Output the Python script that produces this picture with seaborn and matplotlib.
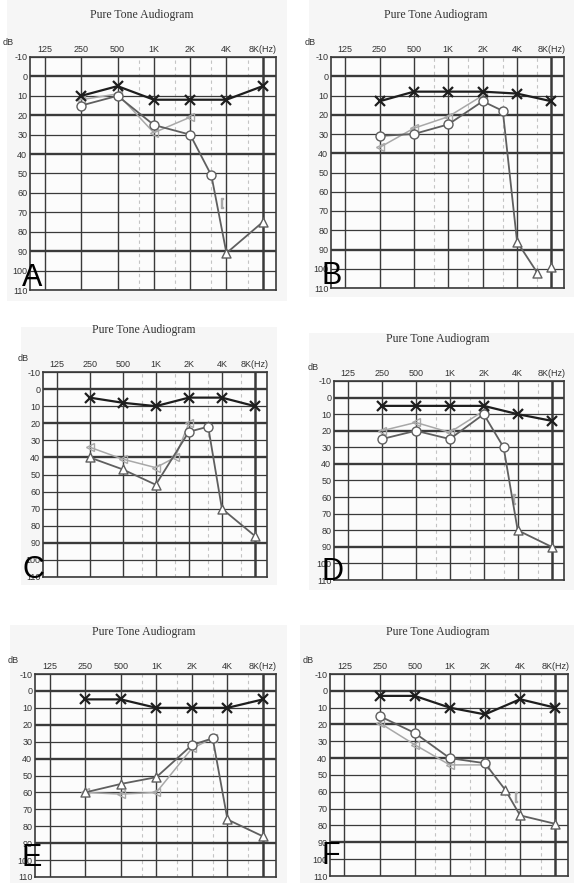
import matplotlib
matplotlib.use("Agg")
import matplotlib.pyplot as plt
from matplotlib.patches import Rectangle
import seaborn as sns
import pandas as pd

# ── data (dB HL) ─────────────────────────────────────────────
FREQS = [250, 500, 1000, 2000, 4000, 8000]
TICK_FREQS = [125, 250, 500, 1000, 2000, 4000, 8000]
TICK_LABELS = ["125", "250", "500", "1K", "2K", "4K", "8K(Hz)"]
MID_FREQS = [750, 1500, 3000, 6000]
DB_TICKS = list(range(-10, 111, 10))

# A
a_left = [10, 5, 12, 12, 12, 5]
a_right_f = [250, 500, 1000, 2000, 3000, 4000, 8000]
a_right = [15, 10, 25, 30, 51, 91, 75]
a_right_sym = ["o", "o", "o", "o", "o", "^", "^"]
a_bone_f = [250, 500, 1000, 2000]
a_bone = [12, 9, 29, 21]
a_mask_f = [3700]
a_mask = [65]
a_nr_f, a_nr = [], []

# B
b_left = [13, 8, 8, 8, 9, 13]
b_right_f = [250, 500, 1000, 2000, 3000, 4000, 6000]
b_right = [31, 30, 25, 13, 18, 86, 102]
b_right_sym = ["o", "o", "o", "o", "o", "^", "^"]
b_bone_f = [250, 500, 1000, 2000]
b_bone = [37, 27, 21, 10]
b_mask_f, b_mask = [], []
b_nr_f = [8000]
b_nr = [99]

# C
c_left = [5, 8, 10, 5, 5, 10]
c_right_f = [250, 500, 1000, 2000, 3000, 4000, 8000]
c_right = [40, 47, 56, 25, 22, 70, 86]
c_right_sym = ["^", "^", "^", "o", "o", "^", "^"]
c_bone_f = [250, 500, 1000, 1500, 2000]
c_bone = [34, 41, 46, 40, 20]
c_mask_f, c_mask = [], []
c_nr_f, c_nr = [], []

# D
d_left = [5, 5, 5, 5, 10, 14]
d_right_f = [250, 500, 1000, 2000, 3000, 4000, 8000]
d_right = [25, 20, 25, 10, 30, 80, 90]
d_right_sym = ["o", "o", "o", "o", "o", "^", "^"]
d_bone_f = [250, 500, 1000, 2000]
d_bone = [20, 15, 21, 8]
d_mask_f = [3700]
d_mask = [61]
d_nr_f, d_nr = [], []

# E
e_left = [5, 5, 10, 10, 10, 5]
e_right_f = [250, 500, 1000, 2000, 3000, 4000, 8000]
e_right = [60, 55, 51, 32, 28, 76, 86]
e_right_sym = ["^", "^", "^", "o", "o", "^", "^"]
e_bone_f = [250, 500, 1000, 2000, 3000]
e_bone = [60, 61, 60, 34, 28]
e_mask_f, e_mask = [], []
e_nr_f, e_nr = [], []

# F
f_left = [3, 3, 10, 14, 5, 10]
f_right_f = [250, 500, 1000, 2000, 3000, 4000, 8000]
f_right = [15, 25, 40, 43, 59, 74, 79]
f_right_sym = ["o", "o", "o", "o", "^", "^", "^"]
f_bone_f = [250, 500, 1000, 2000]
f_bone = [19, 32, 44, 44]
f_mask_f = [3700]
f_mask = [63]
f_nr_f, f_nr = [], []

panels = {
    "A": (a_left, a_right_f, a_right, a_right_sym, a_bone_f, a_bone, a_mask_f, a_mask, a_nr_f, a_nr),
    "B": (b_left, b_right_f, b_right, b_right_sym, b_bone_f, b_bone, b_mask_f, b_mask, b_nr_f, b_nr),
    "C": (c_left, c_right_f, c_right, c_right_sym, c_bone_f, c_bone, c_mask_f, c_mask, c_nr_f, c_nr),
    "D": (d_left, d_right_f, d_right, d_right_sym, d_bone_f, d_bone, d_mask_f, d_mask, d_nr_f, d_nr),
    "E": (e_left, e_right_f, e_right, e_right_sym, e_bone_f, e_bone, e_mask_f, e_mask, e_nr_f, e_nr),
    "F": (f_left, f_right_f, f_right, f_right_sym, f_bone_f, f_bone, f_mask_f, f_mask, f_nr_f, f_nr),
}

# ── layout (pixel boxes: left, right, top, bottom) ───────────
W, H = 574, 883
boxes = {
    "A": (30, 276, 57, 290),
    "B": (331, 564, 57, 288),
    "C": (43, 267, 372, 577),
    "D": (334, 564, 381, 580),
    "E": (35, 276, 674, 877),
    "F": (330, 568, 674, 876),
}
papers = {
    "A": (7, 287, 0, 301),
    "B": (309, 574, 0, 297),
    "C": (21, 277, 327, 585),
    "D": (309, 574, 333, 590),
    "E": (10, 287, 625, 883),
    "F": (300, 574, 625, 883),
}
letter_pos = {"A": (22, 286), "B": (321, 284), "C": (22, 578), "D": (321, 580),
              "E": (21, 866), "F": (321, 864)}

BLACK = "#1e1e1e"
DARK = "#5f5f5f"
LIGHT = "#a8a8a8"
GRID = "#3a3a3a"

sns.set_style("white")
plt.rcParams["font.family"] = ["Liberation Sans", "DejaVu Sans"]

fig = plt.figure(figsize=(W / 100, H / 100), dpi=100)
fig.patch.set_facecolor("white")

# faint scanned-paper background behind each audiogram
for key, (px0, px1, py0, py1) in papers.items():
    fig.patches.append(Rectangle((px0 / W, 1 - py1 / H), (px1 - px0) / W, (py1 - py0) / H,
                                 transform=fig.transFigure, facecolor="#f6f6f6",
                                 edgecolor="none", zorder=-10))

for key, (left, rf, rv, rsym, bf, bv, mf, mv, nf, nv) in panels.items():
    x0, x1, y0, y1 = boxes[key]
    ax = fig.add_axes([x0 / W, 1 - y1 / H, (x1 - x0) / W, (y1 - y0) / H])
    ax.set_facecolor("#fcfcfc")

    # grid
    for f in TICK_FREQS:
        ax.axvline(f, color=GRID, lw=1.0 if f != 8000 else 1.8, zorder=1)
    for f in MID_FREQS:
        ax.axvline(f, color="#c4c4c4", lw=0.8, ls=(0, (3, 3)), zorder=1)
    for d in DB_TICKS:
        thick = d in (0, 20, 40, 90)
        ax.axhline(d, color=GRID, lw=1.7 if thick else 0.9, zorder=1)

    # bone conduction (light)
    bone_df = pd.DataFrame({"freq": bf, "db": bv})
    sns.lineplot(data=bone_df, x="freq", y="db", ax=ax, color=LIGHT, lw=1.1,
                 marker="<", markersize=5.5, markerfacecolor="none",
                 markeredgecolor=LIGHT, markeredgewidth=1.0, zorder=3)
    if mf:
        ax.scatter(mf, mv, marker="$[$", s=45, color=LIGHT, zorder=3)

    # right ear air conduction (dark gray)
    right_df = pd.DataFrame({"freq": rf, "db": rv, "sym": rsym})
    sns.lineplot(data=right_df, x="freq", y="db", ax=ax, color=DARK, lw=1.3, zorder=4)
    for sym, grp in right_df.groupby("sym"):
        ax.scatter(grp["freq"], grp["db"], marker=sym, s=42, facecolors="white",
                   edgecolors=DARK, linewidths=1.0, zorder=5)
    if nf:
        ax.scatter(nf, nv, marker="^", s=42, facecolors="white",
                   edgecolors=DARK, linewidths=1.0, zorder=5)

    # left ear air conduction (black X)
    left_df = pd.DataFrame({"freq": FREQS, "db": left})
    sns.lineplot(data=left_df, x="freq", y="db", ax=ax, color=BLACK, lw=1.6,
                 marker="x", markersize=6.5, markeredgewidth=1.6,
                 markeredgecolor=BLACK, zorder=6)

    ax.set_xscale("log", base=2)
    ax.set_xlim(94, 10300)
    ax.set_ylim(110, -10)
    ax.set_xticks(TICK_FREQS)
    ax.set_xticklabels(TICK_LABELS)
    ax.xaxis.tick_top()
    ax.minorticks_off()
    ax.set_yticks(DB_TICKS)
    ax.set_yticklabels([str(d) for d in DB_TICKS])
    ax.tick_params(length=0, labelsize=6.5, labelcolor="#333333", pad=2)
    ax.set_xlabel("")
    ax.set_ylabel("")
    for s in ax.spines.values():
        s.set_color(GRID)
        s.set_linewidth(1.2)
    ax.text(-0.09, 1.045, "dB", transform=ax.transAxes, fontsize=6.5,
            color="#333333", ha="center", va="bottom")

    # title and panel letter
    fig.text((x0 + x1) / 2 / W - 0.02, 1 - (y0 - 42) / H, "Pure Tone Audiogram",
             family="Liberation Serif", fontsize=8.5, color="#333333",
             ha="center", va="center")
    lx, ly = letter_pos[key]
    fig.text(lx / W, 1 - ly / H, key, fontsize=22, color="black",
             ha="left", va="baseline", zorder=10)

plt.savefig("out.png", dpi=100)
